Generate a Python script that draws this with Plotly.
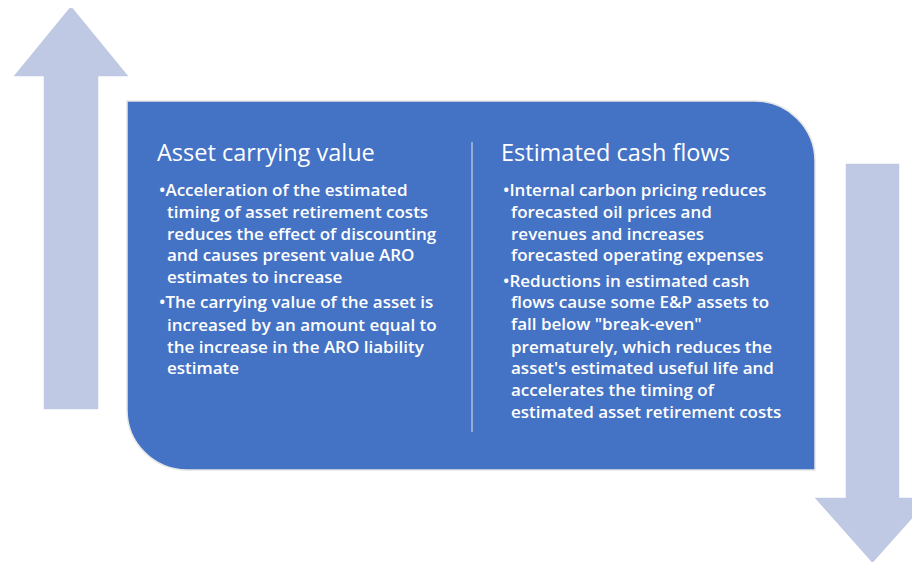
import plotly.graph_objects as go

# text content of the two panels
left_title = "Asset carrying value"
left_lines = [
    "•Acceleration of the estimated",
    "timing of asset retirement costs",
    "reduces the effect of discounting",
    "and causes present value ARO",
    "estimates to increase",
    "•The carrying value of the asset is",
    "increased by an amount equal to",
    "the increase in the ARO liability",
    "estimate",
]
left_y = [189, 211, 233, 254, 276, 301, 324, 346, 367]

right_title = "Estimated cash flows"
right_lines = [
    "•Internal carbon pricing reduces",
    "forecasted oil prices and",
    "revenues and increases",
    "forecasted operating expenses",
    "•Reductions in estimated cash",
    "flows cause some E&P assets to",
    "fall below \"break-even\"",
    "prematurely, which reduces the",
    "asset's estimated useful life and",
    "accelerates the timing of",
    "estimated asset retirement costs",
]
right_y = [189, 211, 233, 254, 280, 301, 323, 346, 367, 389, 411]

BOX = "#4472C4"
ARROW = "#BFC9E3"
W, H = 928, 562
OFF = 8  # page body margin pushes the figure 8px right/down

fig = go.Figure()

shapes = [
    # up arrow
    dict(type="path", path="M43,410 L43,77 L12,77 L71,5 L130,77 L99,77 L99,410 Z",
         fillcolor=ARROW, line=dict(color="white", width=1.5), layer="below"),
    # down arrow
    dict(type="path", path="M845,163 L900,163 L900,497 L932,497 L872.5,564 L813,497 L845,497 Z",
         fillcolor=ARROW, line=dict(color="white", width=1.5), layer="below"),
    # main box, rounded top-right and bottom-left
    dict(type="path",
         path="M127,101 L755,101 C788,101 815,128 815,161 L815,470 L187,470 C154,470 127,443 127,410 Z",
         fillcolor=BOX, line=dict(color="#E6E6E6", width=1.5), layer="below"),
    # divider
    dict(type="line", x0=472, x1=472, y0=142, y1=432,
         line=dict(color="#C9D3EA", width=1.2), layer="below"),
]

font = dict(family="Open Sans, Lato, sans-serif", color="white")
ann = []


def add_text(x, y, txt, size, weight="normal"):
    ann.append(dict(x=x, y=y, text=txt, showarrow=False, xanchor="left", yanchor="middle",
                    xref="x", yref="y", font=dict(font, size=size, weight=weight)))


add_text(155, 152, left_title, 23.5)
add_text(499, 152, right_title, 23.5)
for t, y in zip(left_lines, left_y):
    add_text(157 if t.startswith("•") else 165, y, t, 17, 600)
for t, y in zip(right_lines, right_y):
    add_text(501 if t.startswith("•") else 509, y, t, 17, 600)

fig.update_layout(
    width=W, height=H,
    margin=dict(l=0, r=0, t=0, b=0),
    paper_bgcolor="white", plot_bgcolor="white",
    shapes=shapes, annotations=ann,
    xaxis=dict(range=[OFF, W + OFF], visible=False, fixedrange=True),
    yaxis=dict(range=[H + OFF, OFF], visible=False, fixedrange=True),
    showlegend=False,
)

fig.write_html("out.html", config={"displayModeBar": False})
